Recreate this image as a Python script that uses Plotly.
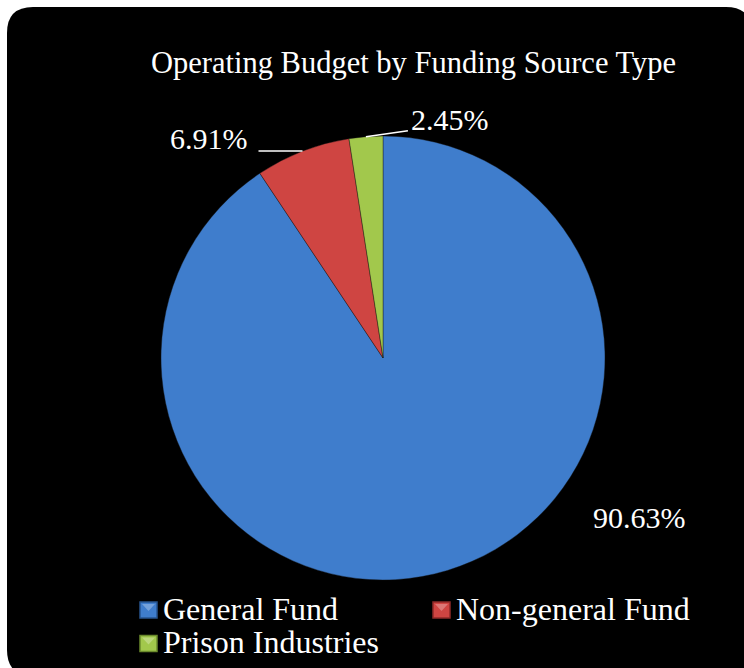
import math
import plotly.graph_objects as go

# Funding source shares of the operating budget (percent)
sources = ["General Fund", "Non-general Fund", "Prison Industries"]
shares = [90.63, 6.91, 2.45]
colors = ["#3f7dcc", "#cf4542", "#a2c84c"]
legend_edges = ["#27548f", "#8e2a28", "#6b8a2c"]

W, H = 744, 668
FONT = "Times New Roman, Liberation Serif, serif"

def px(x):
    return x / W

def py(y):
    return 1 - y / H

# Pie geometry in page pixels
cx, cy, r = 383, 358, 222

fig = go.Figure()
fig.add_trace(go.Pie(
    labels=sources,
    values=shares,
    sort=False,
    direction="clockwise",
    rotation=0,
    textinfo="none",
    hoverinfo="label+percent",
    showlegend=False,
    marker=dict(colors=colors, line=dict(color="rgba(20,20,20,0.5)", width=0.8)),
    domain=dict(x=[px(cx - r), px(cx + r)], y=[py(cy + r), py(cy - r)]),
))

# Rounded black panel behind the chart
x0, y0, x1, y1, rad = 7, 7, 752, 676, 26
path = (
    f"M {px(x0 + rad)},{py(y0)} L {px(x1 - rad)},{py(y0)} "
    f"Q {px(x1)},{py(y0)} {px(x1)},{py(y0 + rad)} "
    f"L {px(x1)},{py(y1 - rad)} Q {px(x1)},{py(y1)} {px(x1 - rad)},{py(y1)} "
    f"L {px(x0 + rad)},{py(y1)} Q {px(x0)},{py(y1)} {px(x0)},{py(y1 - rad)} "
    f"L {px(x0)},{py(y0 + rad)} Q {px(x0)},{py(y0)} {px(x0 + rad)},{py(y0)} Z"
)
shapes = [dict(type="path", xref="paper", yref="paper", path=path,
               fillcolor="black", line=dict(width=0), layer="below")]

annotations = [dict(
    text="Operating Budget by Funding Source Type",
    x=px(414), y=py(63), xref="paper", yref="paper",
    showarrow=False, font=dict(family=FONT, size=30.5, color="white"),
    xanchor="center", yanchor="middle",
)]

# Percentage labels with leader lines from each slice's outer midpoint
total = sum(shares)
start = 0.0
label_offsets = [
    None,                          # large slice: label sits beside the pie
    (-44, 0, "right", -9, -13),    # leader runs left to the label
    (42, -6, "left", 1, -11),      # leader runs right to the label
]
for i, v in enumerate(shares):
    mid = start + v / total * 360 / 2
    start += v / total * 360
    a = math.radians(mid)
    ex, ey = cx + r * math.sin(a), cy - r * math.cos(a)
    label = f"{v:.2f}%"
    if label_offsets[i] is None:
        annotations.append(dict(
            text=label, x=px(639), y=py(517), xref="paper", yref="paper",
            showarrow=False, font=dict(family=FONT, size=30, color="white"),
            xanchor="center", yanchor="middle"))
        continue
    dx, dy, anchor, tdx, tdy = label_offsets[i]
    lx, ly = ex + dx, ey + dy
    shapes.append(dict(type="line", xref="paper", yref="paper",
                       x0=px(ex), y0=py(ey), x1=px(lx), y1=py(ly),
                       line=dict(color="white", width=1.5)))
    annotations.append(dict(
        text=label, x=px(lx + tdx), y=py(ly + tdy),
        xref="paper", yref="paper", showarrow=False,
        font=dict(family=FONT, size=30, color="white"),
        xanchor=anchor, yanchor="middle"))

# Legend: two columns, tight rows, bevelled square swatches
legend_slots = [(140, 610), (433, 610), (140, 643.5)]
for name, col, edge, (lx, ly) in zip(sources, colors, legend_edges, legend_slots):
    shapes.append(dict(type="rect", xref="paper", yref="paper",
                       x0=px(lx), x1=px(lx + 17), y0=py(ly + 8), y1=py(ly - 8),
                       fillcolor=col, line=dict(color=edge, width=1.5)))
    # small inner triangle highlight of the bevel
    shapes.append(dict(type="path", xref="paper", yref="paper",
                       path=(f"M {px(lx + 2)},{py(ly - 6)} L {px(lx + 15)},{py(ly - 6)} "
                             f"L {px(lx + 8.5)},{py(ly + 1)} Z"),
                       fillcolor="rgba(255,255,255,0.28)", line=dict(width=0)))
    annotations.append(dict(
        text=name, x=px(lx + 21), y=py(ly - 1.5), xref="paper", yref="paper",
        showarrow=False, font=dict(family=FONT, size=32, color="white"),
        xanchor="left", yanchor="middle"))

fig.update_layout(
    width=W, height=H,
    margin=dict(l=0, r=0, t=0, b=0, autoexpand=False),
    paper_bgcolor="white",
    plot_bgcolor="white",
    shapes=shapes,
    annotations=annotations,
    showlegend=False,
)

fig.write_html("out.html")
